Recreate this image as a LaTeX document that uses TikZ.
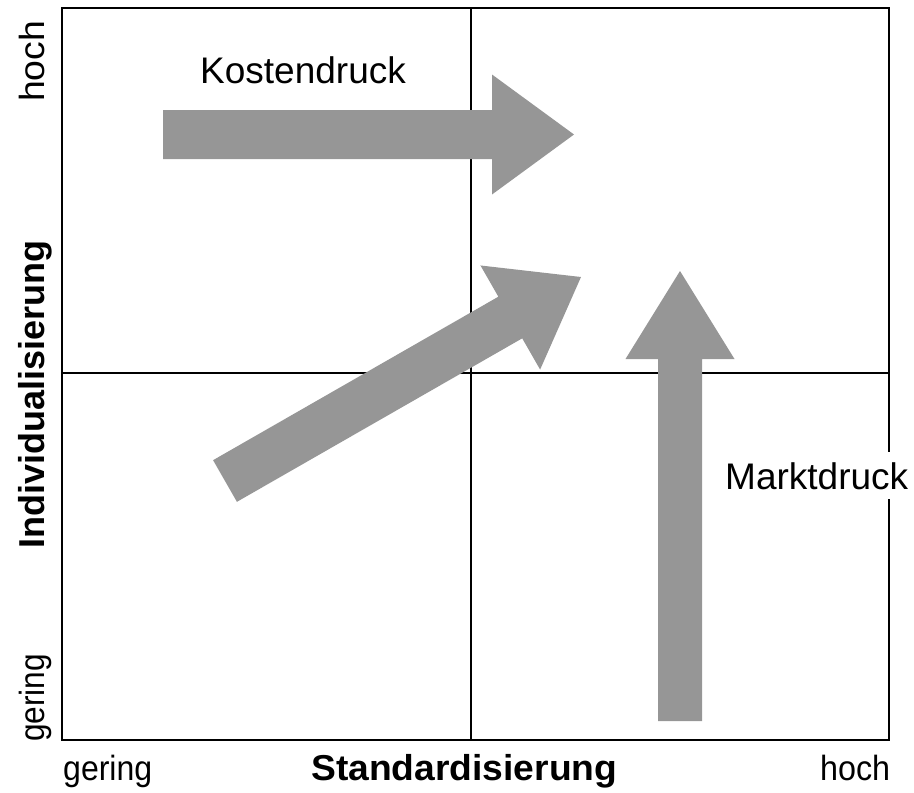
\documentclass[tikz,border=0pt]{standalone}
\usepackage{fontspec}
\setmainfont{Liberation Sans}
\usetikzlibrary{calc}
\definecolor{arrowgray}{RGB}{150,150,150}

% Block arrow from #1 (tail) to #2 (tip):
% #3 half shaft width, #4 half head width, #5 head length
\newcommand\blockarrow[5]{%
  \coordinate (hb) at ($(#2)!#5!(#1)$);
  \fill[arrowgray]
    ($(#1)!#3!90:(#2)$) -- ($(hb)!#3!90:(#2)$) -- ($(hb)!#4!90:(#2)$) --
    (#2) --
    ($(hb)!#4!-90:(#2)$) -- ($(hb)!#3!-90:(#2)$) -- ($(#1)!#3!-90:(#2)$) -- cycle;
}

\begin{document}
\begin{tikzpicture}[x=1pt,y=-1pt,
  gridline/.style={line width=2pt,black},
  lbl/.style={font=\fontsize{37}{40}\selectfont, inner sep=0pt, anchor=base west},
  axislbl/.style={font=\fontsize{35}{38}\selectfont, inner sep=0pt, anchor=base west},
  axistitle/.style={font=\fontsize{36}{40}\selectfont\bfseries, inner sep=0pt, anchor=base west}]
\useasboundingbox (0,0) rectangle (914,793);

% frame and quadrant dividers
\coordinate (tl) at (62,8);
\coordinate (br) at (889,740);
\draw[gridline] (tl) rectangle (br);
\coordinate (vtop) at (471,8);
\coordinate (vbot) at (471,740);
\draw[gridline] (vtop) -- (vbot);
\coordinate (hleft) at (62,373);
\coordinate (hright) at (889,373);
\draw[gridline] (hleft) -- (hright);

% pressure arrows
\coordinate (kTail) at (163,134.5);
\coordinate (kTip) at (574,134.5);
\blockarrow{kTail}{kTip}{24.5pt}{60pt}{82pt}

\coordinate (dTail) at (225,481);
\coordinate (dTip) at (581,277);
\blockarrow{dTail}{dTip}{24pt}{60pt}{81.5pt}

\coordinate (mTail) at (680,721);
\coordinate (mTip) at (680,271);
\blockarrow{mTail}{mTip}{22pt}{54.5pt}{88pt}

% arrow labels
\node[lbl] (kosten) at (200,83) {Kostendruck};
\node[lbl, fill=white, inner xsep=4pt, inner ysep=10pt] (markt) at (721,489) {Marktdruck};

% horizontal axis
\node[axislbl] (xlow) at (63,780) {\resizebox{89pt}{\height}{gering}};
\node[axistitle] (xtitle) at (311,780) {\resizebox{306pt}{\height}{Standardisierung}};
\node[axislbl] (xhigh) at (820,780) {\resizebox{70pt}{\height}{hoch}};

% vertical axis
\node[axislbl, rotate=90] (ylow) at (44,742) {\resizebox{88pt}{\height}{gering}};
\node[axistitle, rotate=90] (ytitle) at (44,549) {Individualisierung};
\node[axislbl, rotate=90] (yhigh) at (44,102) {\resizebox{81pt}{\height}{hoch}};
\end{tikzpicture}
\end{document}
